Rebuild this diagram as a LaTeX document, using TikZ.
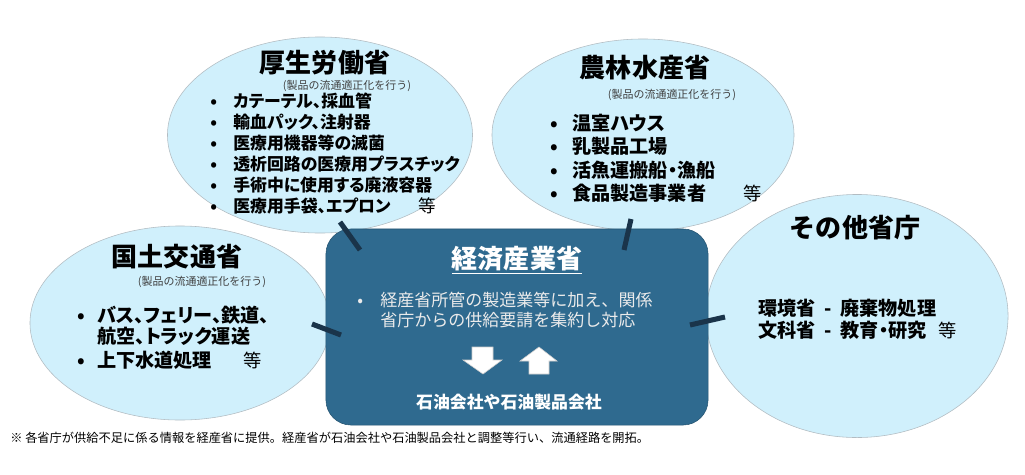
\documentclass[tikz,border=0pt]{standalone}
\usepackage{fontspec}
\setmainfont{Noto Sans CJK JP}
\usepackage{xcolor}
\usepackage{tikz}
\usetikzlibrary{positioning,shapes.geometric}
\definecolor{skyfill}{RGB}{208,240,252}
\definecolor{rimgray}{RGB}{178,188,194}
\definecolor{metiblue}{RGB}{47,106,143}
\definecolor{linkblue}{RGB}{26,52,74}
\newcommand{\bul}[1][0.575cm]{\makebox[#1][l]{•}}
\newcommand{\fs}[1]{\fontsize{#1}{#1}\selectfont}
\newcommand{\palt}{\addfontfeatures{RawFeature=+palt}}
\tikzset{
  ministry/.style={ellipse, draw=rimgray, fill=skyfill, inner sep=0pt},
  ministryname/.style={font=\bfseries\fs{18.5}},
  remark/.style={font=\fs{7.8}, text=black!75},
  item/.style={anchor=west, inner sep=0pt, font=\bfseries\fs{12}\palt},
  etc/.style={anchor=west, inner sep=0pt, font=\fs{12.5}},
  link/.style={draw=linkblue, line width=3.6pt},
  blockarrow/.style={fill=white, draw=gray!40, line width=0.4pt}
}

\begin{document}
\begin{tikzpicture}[x=0.025cm,y=-0.025cm]
\useasboundingbox (0,0) rectangle (1025,474);

\node[ministry, minimum width=7.625cm, minimum height=4.9cm] (mhlw) at (320,135) {};
\node[ministry, minimum width=7.55cm, minimum height=4.8cm] (maff) at (643,135) {};
\node[ministry, minimum width=7.5cm, minimum height=4.85cm] (mlit) at (180,323) {};
\node[ministry, minimum width=7.55cm, minimum height=6.075cm] (other) at (857,316) {};
\node[draw=metiblue!80!black, fill=metiblue, rounded corners=0.625cm,
  minimum width=9.55cm, minimum height=4.9cm] (meti) at (517,327) {};

\coordinate (mhlwend) at (340,222);
\coordinate (mhlwtip) at (360,250);
\coordinate (maffend) at (631,219);
\coordinate (mafftip) at (624,250);
\coordinate (mlitend) at (312,324);
\coordinate (mlittip) at (341,335);
\coordinate (otherend) at (725,317);
\coordinate (othertip) at (690,325);
\draw[link] (mhlwend) -- (mhlwtip);
\draw[link] (maffend) -- (mafftip);
\draw[link] (mlitend) -- (mlittip);
\draw[link] (otherend) -- (othertip);

\node[ministryname] (mhlwname) at (325,63) {厚生労働省};
\node[remark] (mhlwnote) at (347,86) {(製品の流通適正化を行う)};
\foreach \t [count=\i] in {カテーテル、採血管, 輸血パック、注射器, 医療用機器等の滅菌,
  透析回路の医療用プラスチック, 手術中に使用する廃液容器, 医療用手袋、エプロン}
  \node[item] (mhlw\i) at (210,{80+21*\i}) {\bul\t};
\node[etc] (mhlwetc) at (418,206) {等};

\node[ministryname] (maffname) at (645,68) {農林水産省};
\node[remark] (maffnote) at (672,95) {(製品の流通適正化を行う)};
\foreach \t [count=\i] in {温室ハウス, 乳製品工場, 活魚運搬船・漁船, 食品製造事業者}
  \node[item, font=\bfseries\fs{13.6}\palt] (maff\i) at (550,{100+23.3*\i}) {\bul[0.55cm]\t};
\node[etc, font=\fs{13}] (maffetc) at (743,193) {等};

\node[ministryname] (mlitname) at (177,257) {国土交通省};
\node[remark] (mlitnote) at (202,282) {(製品の流通適正化を行う)};
\node[item, font=\bfseries\fs{13.6}\palt] (mlit1) at (77,315) {\bul[0.5cm]バス、フェリー、鉄道、};
\node[item, font=\bfseries\fs{13.6}\palt] (mlit2) at (97,336) {航空、トラック運送};
\node[item, font=\bfseries\fs{13.6}\palt] (mlit3) at (77,360) {\bul[0.5cm]上下水道処理};
\node[etc, font=\fs{13}] (mlitetc) at (243,360) {等};

\node[ministryname] (othername) at (855,228) {その他省庁};
\node[item, font=\bfseries\fs{13.6}\palt] (other1) at (758,308) {環境省\hspace{0.22cm}-\hspace{0.22cm}廃棄物処理};
\node[item, font=\bfseries\fs{13.6}\palt] (other2) at (758,330) {文科省\hspace{0.22cm}-\hspace{0.22cm}教育・研究};
\node[etc, font=\fs{13}] (otheretc) at (938,330) {等};

\node[ministryname, text=white] (metiname) at (517,260) {\underline{経済産業省}};
\node[item, font=\fs{12.1}, text=white!92!black] (meti1) at (357,300) {\bul[0.575cm]経産省所管の製造業等に加え、関係};
\node[item, font=\fs{12.1}, text=white!92!black] (meti2) at (380,320) {省庁からの供給要請を集約し対応};
\draw[blockarrow] (472,347) -- (493,347) -- (493,360) -- (502,360) -- (483,374)
  -- (463,360) -- (472,360) -- cycle;
\draw[blockarrow] (539,347) -- (557,361) -- (549,361) -- (549,374) -- (529,374)
  -- (529,361) -- (520,361) -- cycle;
\node[font=\bfseries\fs{12}, text=white] (oil) at (509,402) {石油会社や石油製品会社};

\node[anchor=west, inner sep=0pt, font=\fs{8.7}] (footnote) at (10,438)
  {※ 各省庁が供給不足に係る情報を経産省に提供。経産省が石油会社や石油製品会社と調整等行い、流通経路を開拓。};
\end{tikzpicture}
\end{document}
